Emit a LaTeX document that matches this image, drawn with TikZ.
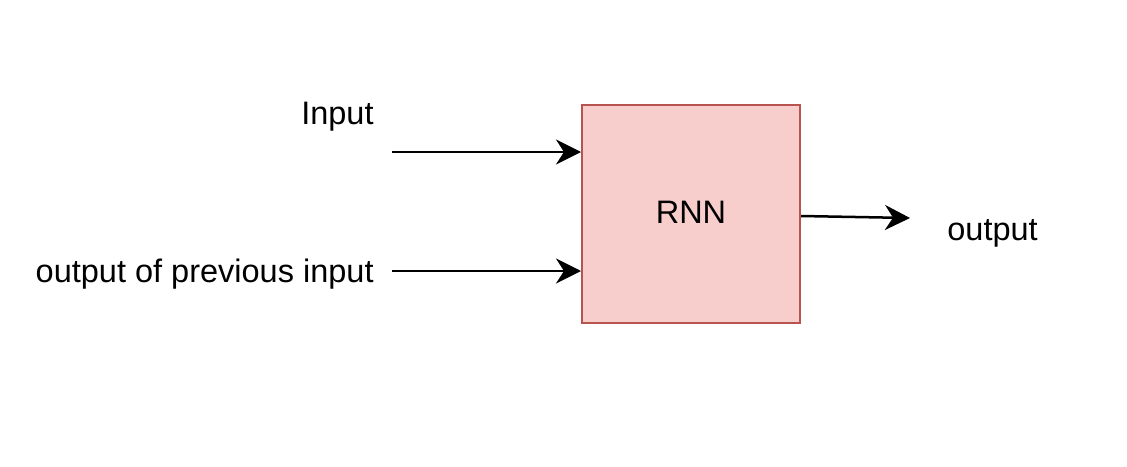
\documentclass[tikz,border=0pt]{standalone}
\usepackage{fontspec}
\setmainfont{Liberation Sans}
\usepackage{tikz}
\usetikzlibrary{arrows.meta}
\definecolor{cellfill}{HTML}{F8CECC}
\definecolor{celledge}{HTML}{B85450}
\tikzset{>=latex}
\tikzstyle{cell}=[draw=celledge,fill=cellfill,line width=1pt,minimum width=109pt,minimum height=109pt,inner sep=0pt]
\tikzstyle{flow}=[-{Stealth[length=12.5pt,width=12.5pt,inset=4pt]},line width=1.25pt,black]
\tikzstyle{label}=[inner sep=0pt,font=\fontsize{16.25}{19}\selectfont]
\begin{document}
\begin{tikzpicture}[x=0.5pt,y=-0.5pt]
  \useasboundingbox (0,0) rectangle (1127,466);

  \node[cell] (rnn) at (691,214) {};
  \node[label,anchor=base] (rnnText) at (691,223) {RNN};

  % labels on the left and right
  \node[label,anchor=base east] (inText) at (374,124) {Input};
  \node[label,anchor=base east] (prevText) at (374,282) {output of previous input};
  \node[label,anchor=base west] (outText) at (947,240) {output};

  % connectors
  \coordinate (inStart) at (392,152);
  \coordinate (prevStart) at (392,271);
  \coordinate (outEnd) at (910,218);
  \draw[flow] (inStart) -- (inStart -| rnn.west);
  \draw[flow] (prevStart) -- (prevStart -| rnn.west);
  \draw[flow] ([yshift=-1pt]rnn.east) -- (outEnd);

\end{tikzpicture}
\end{document}
